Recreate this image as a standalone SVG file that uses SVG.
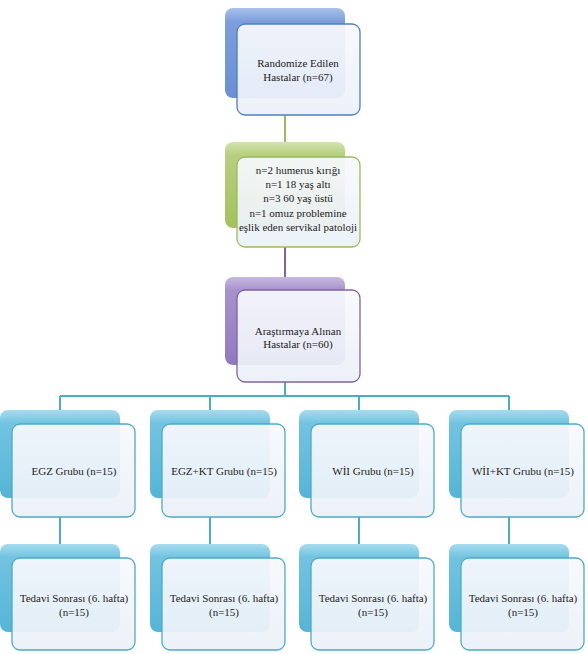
<svg xmlns="http://www.w3.org/2000/svg" width="588" height="654" viewBox="0 0 588 654">
<defs>
<linearGradient id="gBlue" x1="0" y1="0" x2="0" y2="1"><stop offset="0" stop-color="#a9c1ea"/><stop offset="0.15" stop-color="#7d9edc"/><stop offset="1" stop-color="#6a8fd3"/></linearGradient>
<linearGradient id="gGreen" x1="0" y1="0" x2="0" y2="1"><stop offset="0" stop-color="#d2e2ae"/><stop offset="0.15" stop-color="#b6cf7f"/><stop offset="1" stop-color="#a3c15e"/></linearGradient>
<linearGradient id="gPurple" x1="0" y1="0" x2="0" y2="1"><stop offset="0" stop-color="#c6b9e0"/><stop offset="0.15" stop-color="#a792cf"/><stop offset="1" stop-color="#9179c0"/></linearGradient>
<linearGradient id="gCyan" x1="0" y1="0" x2="0" y2="1"><stop offset="0" stop-color="#a6dcee"/><stop offset="0.15" stop-color="#72c3e1"/><stop offset="1" stop-color="#55b5d7"/></linearGradient>
<linearGradient id="gFront" x1="0" y1="0" x2="0" y2="1"><stop offset="0" stop-color="#f7f9fd"/><stop offset="1" stop-color="#ebf0f8"/></linearGradient>
</defs>
<style>
.back{stroke:none}
.front{fill:url(#gFront);fill-opacity:0.93;stroke-width:1.3}
.c{fill:none;stroke-width:2}
</style>
<g id="connectors">
<line class="c" x1="285" y1="115" x2="285" y2="157" stroke="#9bbb59"/>
<line class="c" x1="285" y1="247" x2="285" y2="290" stroke="#8064a2"/>
<path class="c" d="M285 382 V396 M60 396 H509 M60 396 V424 M210 396 V424 M359 396 V424 M509 396 V424" stroke="#4bacc6"/>
<path class="c" d="M60 517 V558 M210 517 V558 M359 517 V558 M509 517 V558" stroke="#4bacc6"/>
</g>
<g font-family="Liberation Serif, Times New Roman, serif" font-size="11" fill="#222" text-anchor="middle">
<g id="n_randomize">
<rect class="back" x="225" y="8" width="120" height="90" rx="8" fill="url(#gBlue)"/>
<rect class="front" x="237" y="24" width="123" height="91" rx="8" stroke="#4f7fbf"/>
<text x="298" y="67">Randomize Edilen</text>
<text x="298" y="81">Hastalar (n=67)</text>
</g>
<g id="n_excluded">
<rect class="back" x="225" y="142" width="120" height="86" rx="8" fill="url(#gGreen)"/>
<rect class="front" x="237" y="157" width="123" height="90" rx="8" stroke="#9bbb59"/>
<text x="298" y="174">n=2 humerus kırığı</text>
<text x="298" y="188">n=1 18 yaş altı</text>
<text x="298" y="202">n=3 60 yaş üstü</text>
<text x="298" y="217">n=1 omuz problemine</text>
<text x="298" y="231">eşlik eden servikal patoloji</text>
</g>
<g id="n_enrolled">
<rect class="back" x="225" y="277" width="120" height="88" rx="8" fill="url(#gPurple)"/>
<rect class="front" x="237" y="290" width="123" height="92" rx="8" stroke="#8064a2"/>
<text x="298" y="335">Araştırmaya Alınan</text>
<text x="298" y="348">Hastalar (n=60)</text>
</g>
<g id="n_egz">
<rect class="back" x="0" y="410" width="120" height="88" rx="8" fill="url(#gCyan)"/>
<rect class="front" x="12" y="424" width="123" height="93" rx="8" stroke="#4bacc6"/>
<text x="74" y="475">EGZ Grubu (n=15)</text>
</g>
<g id="n_egzkt">
<rect class="back" x="150" y="410" width="120" height="88" rx="8" fill="url(#gCyan)"/>
<rect class="front" x="162" y="424" width="123" height="93" rx="8" stroke="#4bacc6"/>
<text x="224" y="475">EGZ+KT Grubu (n=15)</text>
</g>
<g id="n_wii">
<rect class="back" x="299" y="410" width="120" height="88" rx="8" fill="url(#gCyan)"/>
<rect class="front" x="311" y="424" width="123" height="93" rx="8" stroke="#4bacc6"/>
<text x="373" y="475">WİI Grubu (n=15)</text>
</g>
<g id="n_wiikt">
<rect class="back" x="449" y="410" width="120" height="88" rx="8" fill="url(#gCyan)"/>
<rect class="front" x="461" y="424" width="123" height="93" rx="8" stroke="#4bacc6"/>
<text x="523" y="475">WİI+KT Grubu (n=15)</text>
</g>
<g id="n_post1">
<rect class="back" x="0" y="544" width="120" height="88" rx="8" fill="url(#gCyan)"/>
<rect class="front" x="12" y="558" width="123" height="92" rx="8" stroke="#4bacc6"/>
<text x="74" y="602">Tedavi Sonrası (6. hafta)</text>
<text x="74" y="616">(n=15)</text>
</g>
<g id="n_post2">
<rect class="back" x="150" y="544" width="120" height="88" rx="8" fill="url(#gCyan)"/>
<rect class="front" x="162" y="558" width="123" height="92" rx="8" stroke="#4bacc6"/>
<text x="224" y="602">Tedavi Sonrası (6. hafta)</text>
<text x="224" y="616">(n=15)</text>
</g>
<g id="n_post3">
<rect class="back" x="299" y="544" width="120" height="88" rx="8" fill="url(#gCyan)"/>
<rect class="front" x="311" y="558" width="123" height="92" rx="8" stroke="#4bacc6"/>
<text x="373" y="602">Tedavi Sonrası (6. hafta)</text>
<text x="373" y="616">(n=15)</text>
</g>
<g id="n_post4">
<rect class="back" x="449" y="544" width="120" height="88" rx="8" fill="url(#gCyan)"/>
<rect class="front" x="461" y="558" width="123" height="92" rx="8" stroke="#4bacc6"/>
<text x="523" y="602">Tedavi Sonrası (6. hafta)</text>
<text x="523" y="616">(n=15)</text>
</g>
</g>
</svg>
